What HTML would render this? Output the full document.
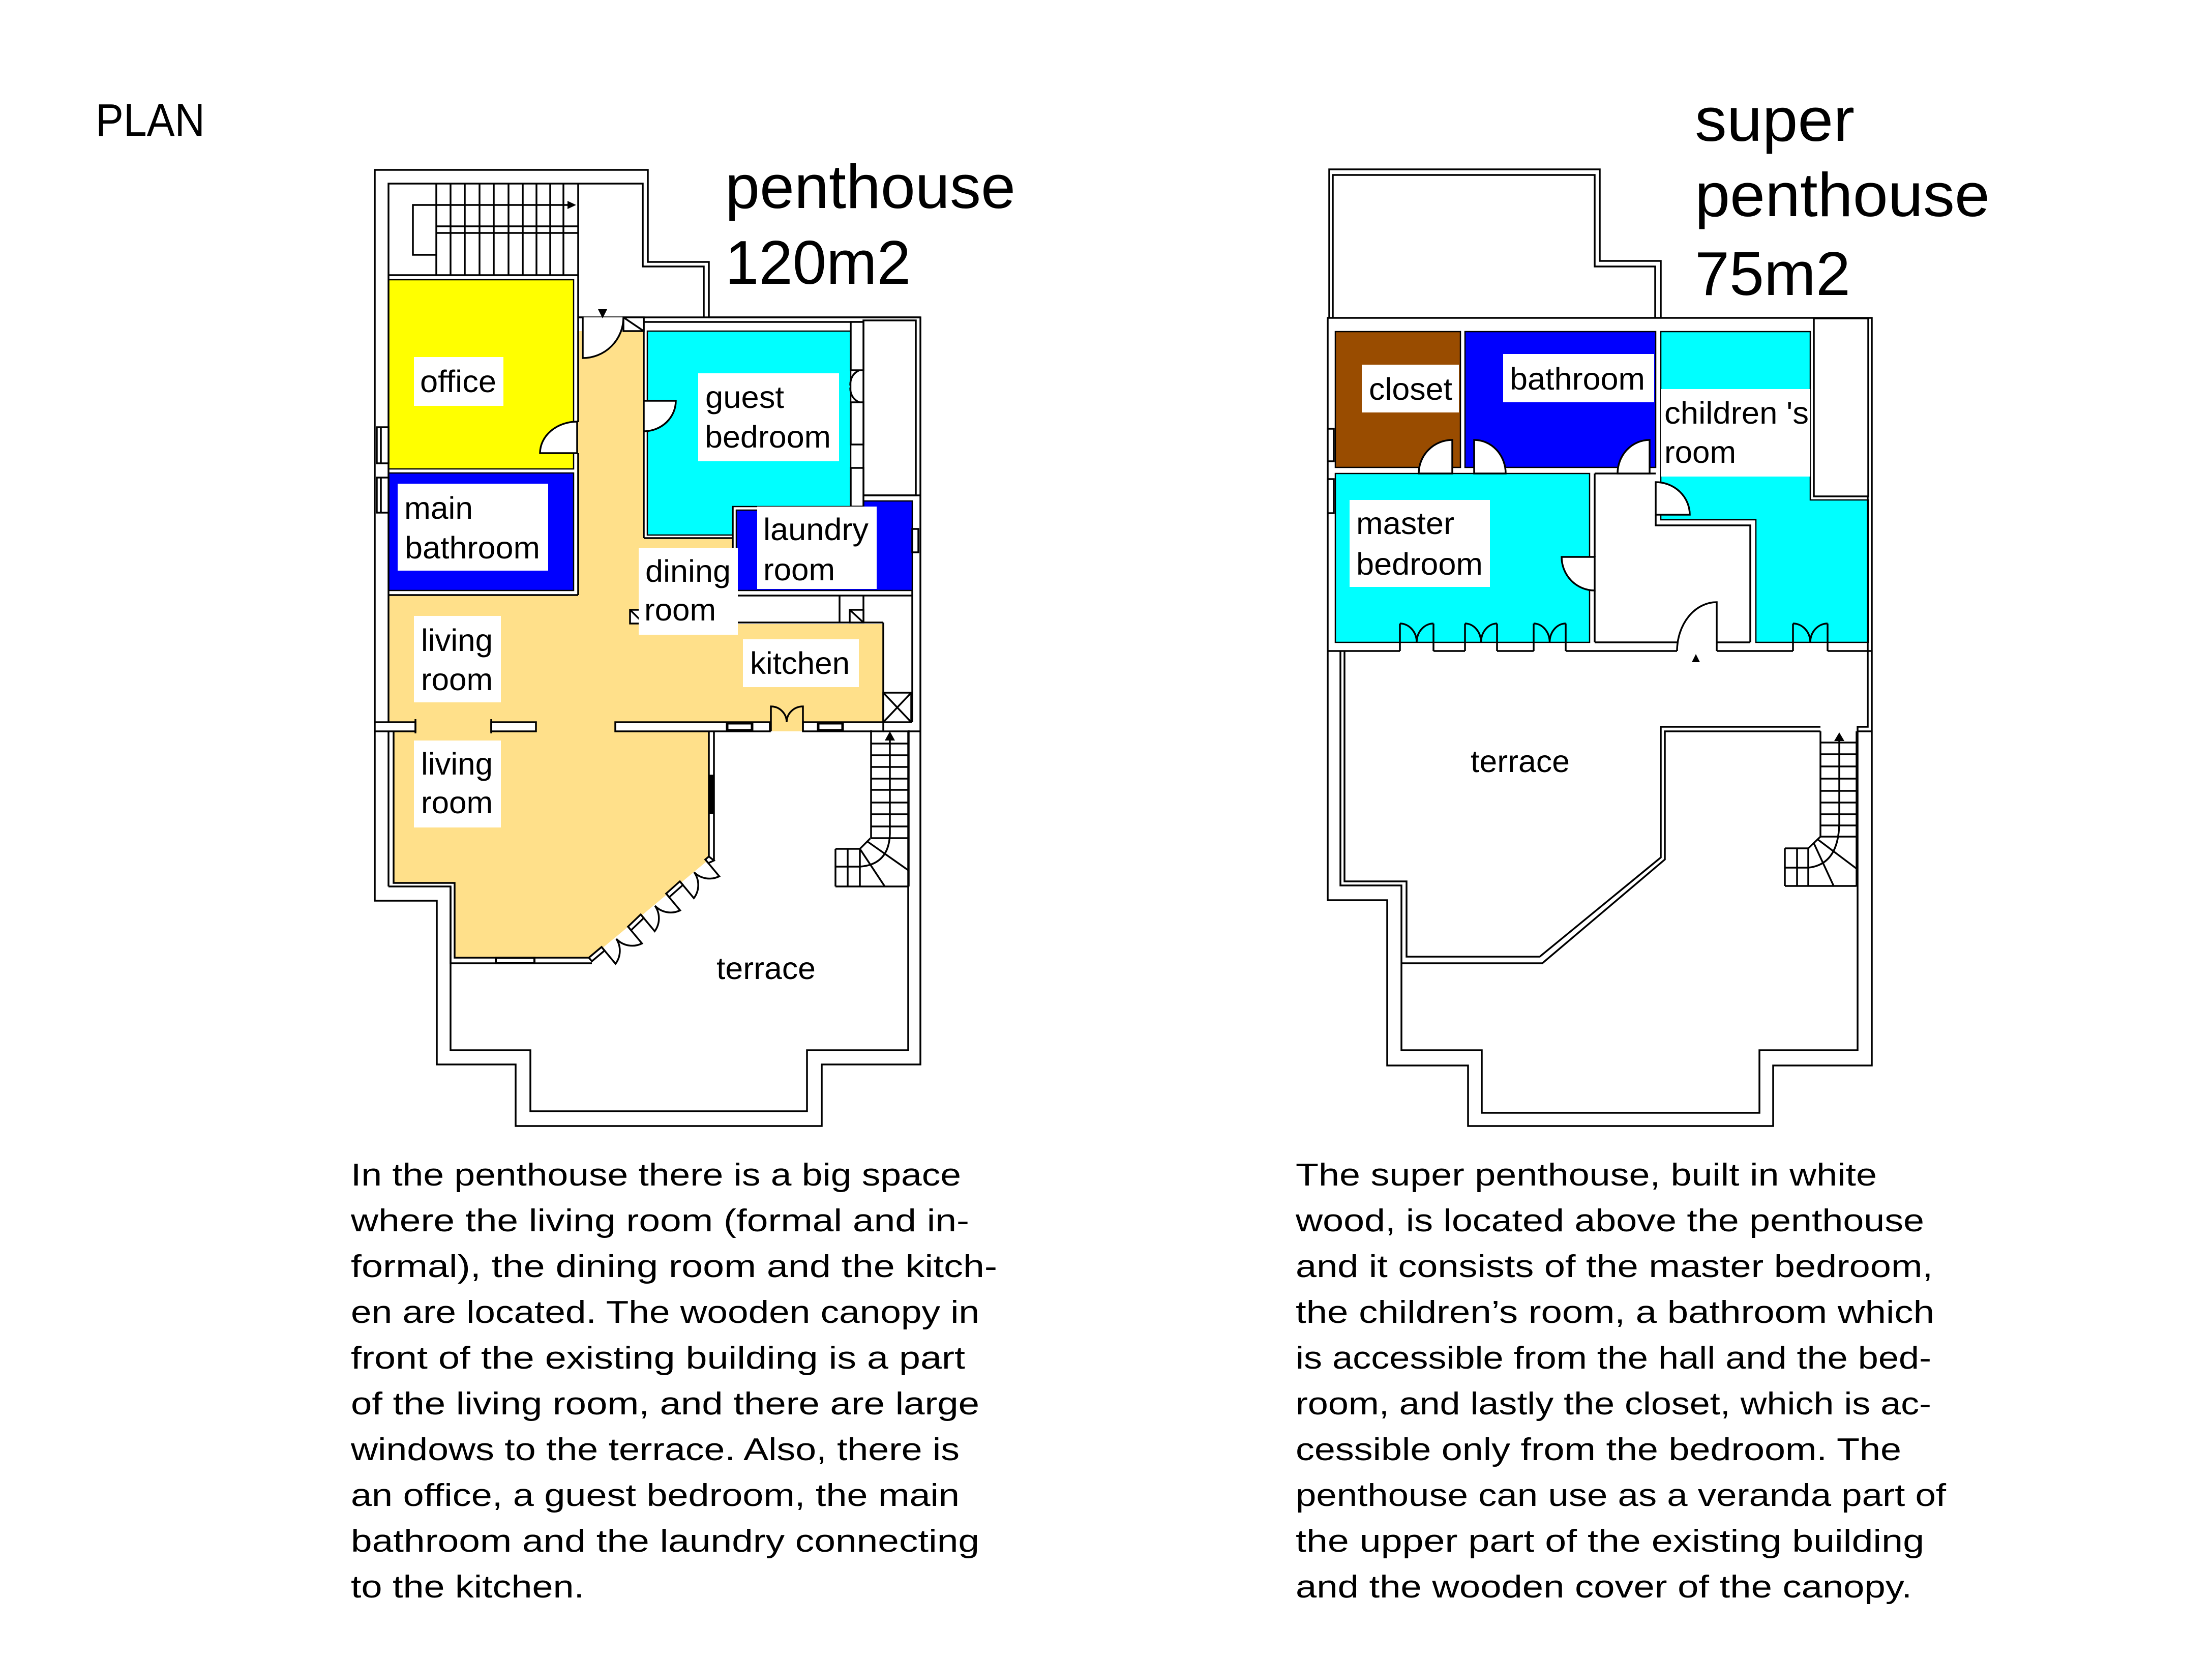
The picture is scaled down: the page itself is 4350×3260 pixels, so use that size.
<!DOCTYPE html>
<html><head><meta charset="utf-8"><style>
html,body{margin:0;padding:0;background:#fff;}
svg{display:block}
</style></head><body>
<svg xmlns="http://www.w3.org/2000/svg" width="4350" height="3260" viewBox="0 0 4350 3260">
<rect width="4350" height="3260" fill="#fff"/>

<!-- ================= LEFT PLAN ================= -->
<!-- fills -->
<path fill="#FFE08A" d="M1135,651 H1266 V1058 H1441 V1227 H1737 V1438 H764 V1171 H1135 Z"/>
<path fill="#FFE08A" d="M774,1438 H1394 V1690 L1162,1883 H894 V1736 H774 Z"/>
<rect x="764" y="550" width="364" height="372" fill="#FFFF00" stroke="#000" stroke-width="2.5"/>
<rect x="764" y="930" width="364" height="231" fill="#0000FF" stroke="#000" stroke-width="2.5"/>
<path fill="#00FFFF" stroke="#000" stroke-width="2.5" d="M1273,651 H1673 V996 H1441 V1052 H1273 Z"/>
<path fill="#0000FF" stroke="#000" stroke-width="2.5" d="M1448,1003 H1698 V985 H1794 V1161 H1448 Z"/>

<g fill="none" stroke="#000" stroke-width="3.5">
  <!-- outer walls -->
  <path d="M737,334 H1274 V515 H1394 V624 H1810 V2093 H1616 V2214 H1014 V2093 H859 V1771 H737 Z"/>
  <path d="M764,1743 V361 H1264 V524 H1384 V624"/>
  <path d="M764,1743 H886 V2065 H1043 V2185 H1587 V2065 H1786 V1438"/>
  <path d="M774,1438 V1736 H894 V1883 H1158"/>
  <path d="M886,1743 V1894 H1164"/>
  <path d="M1394,1438 V1684 M1404,1438 V1692"/>
  <!-- diagonal wall pieces -->
  <polygon points="1158,1883 1183,1862 1189,1869 1164,1890" fill="#fff"/>
  <polygon points="1235,1822 1260,1798 1266,1805 1241,1829" fill="#fff"/>
  <polygon points="1310,1757 1337,1733 1343,1740 1316,1764" fill="#fff"/>
  <polygon points="1387,1690 1394,1684 1404,1692 1393,1697" fill="#fff"/>
  <!-- diagonal double doors -->
  <path d="M1183,1862 L1210.5,1895 A43,43 0 0 0 1212,1846 A43,43 0 0 0 1262.5,1855 L1235,1822"/>
  <path d="M1260,1798 L1287.5,1831 A43,43 0 0 0 1288,1781 A43,43 0 0 0 1337.5,1790 L1310,1757"/>
  <path d="M1337,1733 L1364.5,1766 A43,43 0 0 0 1365,1715 A43,43 0 0 0 1414.5,1723 L1387,1690"/>
  <!-- stair top-left -->
  <path d="M764,541 H1137 M1137,361 V830 M1137,891 V1170 M764,1170 H1137"/>
  <path d="M858,361 V541 M886,361 V541 M914,361 V541 M943,361 V541 M971,361 V541 M1000,361 V541 M1028,361 V541 M1055,361 V541 M1082,361 V541 M1108,361 V541"/>
  <path d="M858,445 H1137 M858,458 H1137"/>
  <path d="M1120,403 H812 V501 H858"/>
  <!-- hall -->
  <path d="M1137,624 H1146 V651"/>
  <path d="M1137,624 H1810"/>
  <rect x="1226" y="624" width="40" height="27" fill="#fff"/>
  <path d="M1226,624 L1266,651"/>
  <!-- guest bedroom walls -->
  <path d="M1266,624 V788 M1266,848 V1058 M1266,1058 H1441 M1266,633 H1698"/>
  <rect x="1698" y="630" width="103" height="344" fill="#fff"/>
  <rect x="1673" y="633" width="25" height="95" fill="#fff"/>
  <rect x="1673" y="791" width="25" height="83" fill="#fff"/>
  <rect x="1673" y="920" width="25" height="76" fill="#fff"/>
  <path d="M1690,728 Q1672,736 1672,758 M1690,791 Q1672,783 1672,762"/>
  <!-- laundry / corridor -->
  <path d="M1698,974 H1810 M1441,996 V1171 M1441,1171 H1794 M1441,1224 H1737 M1651,1171 V1224 M1698,1171 V1224"/>
  <rect x="1671" y="1199" width="27" height="25" fill="#fff"/>
  <path d="M1671,1199 L1698,1224"/>
  <path d="M1737,1224 V1420 M1794,1161 V1420"/>
  <rect x="1794" y="1040" width="12" height="46" fill="#fff"/>
  <rect x="1737" y="1362" width="55" height="58" fill="#fff"/>
  <path d="M1737,1362 L1792,1420 M1792,1362 L1737,1420"/>
  <rect x="1239" y="1199" width="27" height="27" fill="#fff"/>
  <path d="M1239,1199 L1266,1226"/>
  <!-- left wall windows -->
  <rect x="741" y="840" width="23" height="71" fill="#fff"/>
  <rect x="741" y="939" width="23" height="69" fill="#fff"/>
  <path d="M749,840 V911 M749,939 V1008"/>
  <!-- mid wall bars -->
  <rect x="737" y="1420" width="80" height="18" fill="#fff"/>
  <rect x="966" y="1420" width="88" height="18" fill="#fff"/>
  <rect x="1210" y="1420" width="304" height="18" fill="#fff"/>
  <rect x="1579" y="1420" width="158" height="18" fill="#fff"/>
  <path d="M1737,1438 H1810"/>
  <rect x="1430" y="1422" width="49" height="14" fill="#fff" stroke-width="5"/>
  <rect x="1609" y="1422" width="48" height="14" fill="#fff" stroke-width="5"/>
  <path d="M817,1414 V1442 M966,1414 V1442"/>
  <path d="M1516,1438 V1389 A31,31 0 0 1 1547,1420 M1579,1438 V1389 A32,31 0 0 0 1547,1420"/>
  <!-- canopy windows -->
  <rect x="1395" y="1525" width="8" height="74" fill="#000"/>
  <rect x="975" y="1883" width="76" height="11" fill="#fff" stroke-width="4"/>
  <!-- lower stair -->
  <path d="M1713,1436 V1648 M1787,1436 V1743"/>
  <path d="M1713,1462 H1787 M1713,1485 H1787 M1713,1508 H1787 M1713,1531 H1787 M1713,1553 H1787 M1713,1578 H1787 M1713,1601 H1787 M1713,1625 H1787 M1713,1648 H1787"/>
  <path d="M1643,1669 H1691 M1643,1669 V1743 M1667,1669 V1743 M1691,1669 V1743 M1643,1704 H1691 M1643,1743 H1786 M1712,1648 L1691,1669 M1691,1669 L1740,1743 M1705,1654 L1786,1711"/>
  <path d="M1691,1704 Q1748,1700 1750,1640 V1452"/>
  <!-- doors with white quarter discs -->
  <path d="M1146,624 V704 A80,80 0 0 0 1226,624" fill="#fff"/>
  <path d="M1135,891 H1062 A73,62 0 0 1 1135,829 Z" fill="#fff"/>
  <path d="M1266,788 H1329 A63,60 0 0 1 1266,848 Z" fill="#fff"/>
</g>
<polygon points="1176,608 1194,608 1185,626" fill="#000"/>
<polygon points="1750,1438 1740,1456 1760,1456" fill="#000"/>
<polygon points="1133,403 1116,395 1116,411" fill="#000"/>

<!-- left labels -->
<g fill="#fff">
  <rect x="814" y="702" width="176" height="96"/>
  <rect x="782" y="951" width="296" height="171"/>
  <rect x="1373" y="734" width="277" height="173"/>
  <rect x="1489" y="996" width="235" height="162"/>
  <rect x="1256" y="1077" width="195" height="171"/>
  <rect x="814" y="1211" width="171" height="170"/>
  <rect x="814" y="1456" width="171" height="171"/>
  <rect x="1461" y="1257" width="228" height="94"/>
</g>
<g font-family="'Liberation Sans', Arial, sans-serif" font-size="61" fill="#000">
  <text x="826" y="771" textLength="150" lengthAdjust="spacingAndGlyphs">office</text>
  <text x="795" y="1020" textLength="135" lengthAdjust="spacingAndGlyphs">main</text>
  <text x="796" y="1098" textLength="266" lengthAdjust="spacingAndGlyphs">bathroom</text>
  <text x="1387" y="802" textLength="155" lengthAdjust="spacingAndGlyphs">guest</text>
  <text x="1386" y="880" textLength="248" lengthAdjust="spacingAndGlyphs">bedroom</text>
  <text x="1501" y="1062" textLength="207" lengthAdjust="spacingAndGlyphs">laundry</text>
  <text x="1501" y="1141" textLength="141" lengthAdjust="spacingAndGlyphs">room</text>
  <text x="1269" y="1144" textLength="168" lengthAdjust="spacingAndGlyphs">dining</text>
  <text x="1267" y="1220" textLength="141" lengthAdjust="spacingAndGlyphs">room</text>
  <text x="828" y="1280" textLength="141" lengthAdjust="spacingAndGlyphs">living</text>
  <text x="828" y="1357" textLength="141" lengthAdjust="spacingAndGlyphs">room</text>
  <text x="828" y="1523" textLength="141" lengthAdjust="spacingAndGlyphs">living</text>
  <text x="828" y="1599" textLength="141" lengthAdjust="spacingAndGlyphs">room</text>
  <text x="1475" y="1325" textLength="196" lengthAdjust="spacingAndGlyphs">kitchen</text>
  <text x="1409" y="1925" textLength="195" lengthAdjust="spacingAndGlyphs">terrace</text>
</g>

<!-- ================= RIGHT PLAN ================= -->
<rect x="2626" y="652" width="246" height="267" fill="#994C00" stroke="#000" stroke-width="2.5"/>
<rect x="2881" y="652" width="375" height="267" fill="#0000FF" stroke="#000" stroke-width="2.5"/>
<path fill="#00FFFF" stroke="#000" stroke-width="2.5" d="M3266,652 H3560 V983 H3674 V1263 H3453 V1022 H3266 Z"/>
<rect x="2626" y="931" width="500" height="332" fill="#00FFFF" stroke="#000" stroke-width="2.5"/>

<g fill="none" stroke="#000" stroke-width="3.5">
  <path d="M2614,625 V333 H3146 V513 H3266 V625"/>
  <path d="M2621,625 V344 H3136 V524 H3255 V625"/>
  <path d="M2611,625 H3681 V2095 H3487 V2214 H2887 V2095 H2728 V1770 H2611 Z"/>
  <path d="M2644,1280 V1733 H2766 V1881 H3028 L3266,1686 V1429 H3580"/>
  <path d="M2636,1280 V1741 H2756 V2065 H2914 V2188 H3460 V2065 H3653 V1438"/>
  <path d="M2756,1894 H3033 L3274,1690 V1438 H3580"/>
  <path d="M3673,626 V1429 H3653 V1438 M3653,1438 H3681"/>
  <rect x="3567" y="626" width="107" height="350" fill="#fff"/>
  <!-- hall walls -->
  <path d="M3136,931 V1095 M3136,1161 V1263 M3136,931 H3256"/>
  <path d="M3256,1012 V1033 H3442 V1263"/>
  <path d="M3136,1263 H3298 M3376,1263 H3442"/>
  <!-- bottom wall -->
  <path d="M2611,1280 H2753 M2819,1280 H2881 M2944,1280 H3016 M3079,1280 H3298 M3376,1280 H3526 M3594,1280 H3681"/>
  <path d="M2753,1226 V1280 M2819,1226 V1280 M2881,1226 V1280 M2944,1226 V1280 M3016,1226 V1280 M3079,1226 V1280 M3526,1226 V1280 M3594,1226 V1280"/>
  <path d="M2753,1226 A33,37 0 0 1 2786,1263 M2819,1226 A33,37 0 0 0 2786,1263"/>
  <path d="M2881,1226 A31.5,37 0 0 1 2912.5,1263 M2944,1226 A31.5,37 0 0 0 2912.5,1263"/>
  <path d="M3016,1226 A31.5,37 0 0 1 3047.5,1263 M3079,1226 A31.5,37 0 0 0 3047.5,1263"/>
  <path d="M3526,1226 A34,37 0 0 1 3560,1263 M3594,1226 A34,37 0 0 0 3560,1263"/>
  <path d="M3376,1280 V1184 A78,96 0 0 0 3298,1280"/>
  <!-- left windows -->
  <rect x="2611" y="843" width="12" height="64" fill="#fff"/>
  <rect x="2611" y="942" width="12" height="67" fill="#fff"/>
  <!-- doors -->
  <path d="M3136,1095 H3071 A65,66 0 0 0 3136,1161 Z" fill="#fff"/>
  <path d="M3256,1012 H3323 A67,64 0 0 0 3256,948 Z" fill="#fff"/>
  <path d="M2856,931 V865 A66,66 0 0 0 2790,931 Z" fill="#fff"/>
  <path d="M2899,931 V865 A62,66 0 0 1 2961,931 Z" fill="#fff"/>
  <path d="M3244,931 V865 A63,66 0 0 0 3181,931 Z" fill="#fff"/>
  <!-- right stair -->
  <path d="M3580,1438 V1645 M3651,1438 V1742"/>
  <path d="M3580,1460 H3651 M3580,1483 H3651 M3580,1507 H3651 M3580,1531 H3651 M3580,1555 H3651 M3580,1578 H3651 M3580,1601 H3651 M3580,1623 H3651 M3580,1645 H3651"/>
  <path d="M3510,1668 H3556 M3510,1668 V1742 M3534,1668 V1742 M3556,1668 V1742 M3510,1742 H3651 M3580,1645 L3556,1668 M3567,1658 L3606,1742 M3574,1650 L3651,1708 M3510,1706 H3556"/>
  <path d="M3556,1706 Q3615,1700 3617,1620 V1452"/>
</g>
<polygon points="3327,1302 3343,1302 3335,1286" fill="#000"/>
<polygon points="3617,1440 3607,1457 3627,1457" fill="#000"/>

<g fill="#fff">
  <rect x="2678" y="717" width="191" height="94"/>
  <rect x="2956" y="696" width="297" height="95"/>
  <rect x="3266" y="765" width="294" height="172"/>
  <rect x="2654" y="983" width="276" height="171"/>
</g>
<g font-family="'Liberation Sans', Arial, sans-serif" font-size="61" fill="#000">
  <text x="2692" y="786" textLength="164" lengthAdjust="spacingAndGlyphs">closet</text>
  <text x="2969" y="766" textLength="266" lengthAdjust="spacingAndGlyphs">bathroom</text>
  <text x="3273" y="833" textLength="284" lengthAdjust="spacingAndGlyphs">children 's</text>
  <text x="3273" y="910" textLength="141" lengthAdjust="spacingAndGlyphs">room</text>
  <text x="2667" y="1050" textLength="193" lengthAdjust="spacingAndGlyphs">master</text>
  <text x="2667" y="1130" textLength="249" lengthAdjust="spacingAndGlyphs">bedroom</text>
  <text x="2892" y="1518" textLength="195" lengthAdjust="spacingAndGlyphs">terrace</text>
</g>

<!-- ================= TITLES ================= -->
<g font-family="'Liberation Sans', Arial, sans-serif" fill="#000">
  <text x="188" y="267" font-size="90" textLength="215" lengthAdjust="spacingAndGlyphs">PLAN</text>
  <text x="1426" y="409" font-size="122" textLength="571" lengthAdjust="spacingAndGlyphs">penthouse</text>
  <text x="1426" y="558" font-size="122" textLength="365" lengthAdjust="spacingAndGlyphs">120m2</text>
  <text x="3333" y="277" font-size="122" textLength="314" lengthAdjust="spacingAndGlyphs">super</text>
  <text x="3333" y="425" font-size="122" textLength="580" lengthAdjust="spacingAndGlyphs">penthouse</text>
  <text x="3333" y="580" font-size="122" textLength="306" lengthAdjust="spacingAndGlyphs">75m2</text>
</g>

<!-- ================= BODY TEXT ================= -->
<g font-family="'Liberation Sans', Arial, sans-serif" font-size="62" fill="#000">
  <text x="690" y="2331" textLength="1200" lengthAdjust="spacingAndGlyphs">In the penthouse there is a big space</text>
  <text x="690" y="2421" textLength="1216" lengthAdjust="spacingAndGlyphs">where the living room (formal and in-</text>
  <text x="690" y="2511" textLength="1271" lengthAdjust="spacingAndGlyphs">formal), the dining room and the kitch-</text>
  <text x="690" y="2601" textLength="1236" lengthAdjust="spacingAndGlyphs">en are located. The wooden canopy in</text>
  <text x="690" y="2691" textLength="1208" lengthAdjust="spacingAndGlyphs">front of the existing building is a part</text>
  <text x="690" y="2781" textLength="1236" lengthAdjust="spacingAndGlyphs">of the living room, and there are large</text>
  <text x="690" y="2871" textLength="1197" lengthAdjust="spacingAndGlyphs">windows to the terrace. Also, there is</text>
  <text x="690" y="2961" textLength="1197" lengthAdjust="spacingAndGlyphs">an office, a guest bedroom, the main</text>
  <text x="690" y="3051" textLength="1236" lengthAdjust="spacingAndGlyphs">bathroom and the laundry connecting</text>
  <text x="690" y="3141" textLength="459" lengthAdjust="spacingAndGlyphs">to the kitchen.</text>

  <text x="2548" y="2331" textLength="1143" lengthAdjust="spacingAndGlyphs">The super penthouse, built in white</text>
  <text x="2548" y="2421" textLength="1236" lengthAdjust="spacingAndGlyphs">wood, is located above the penthouse</text>
  <text x="2548" y="2511" textLength="1253" lengthAdjust="spacingAndGlyphs">and it consists of the master bedroom,</text>
  <text x="2548" y="2601" textLength="1256" lengthAdjust="spacingAndGlyphs">the children’s room, a bathroom which</text>
  <text x="2548" y="2691" textLength="1250" lengthAdjust="spacingAndGlyphs">is accessible from the hall and the bed-</text>
  <text x="2548" y="2781" textLength="1250" lengthAdjust="spacingAndGlyphs">room, and lastly the closet, which is ac-</text>
  <text x="2548" y="2871" textLength="1191" lengthAdjust="spacingAndGlyphs">cessible only from the bedroom. The</text>
  <text x="2548" y="2961" textLength="1279" lengthAdjust="spacingAndGlyphs">penthouse can use as a veranda part of</text>
  <text x="2548" y="3051" textLength="1236" lengthAdjust="spacingAndGlyphs">the upper part of the existing building</text>
  <text x="2548" y="3141" textLength="1212" lengthAdjust="spacingAndGlyphs">and the wooden cover of the canopy.</text>
</g>
</svg>
</body></html>
